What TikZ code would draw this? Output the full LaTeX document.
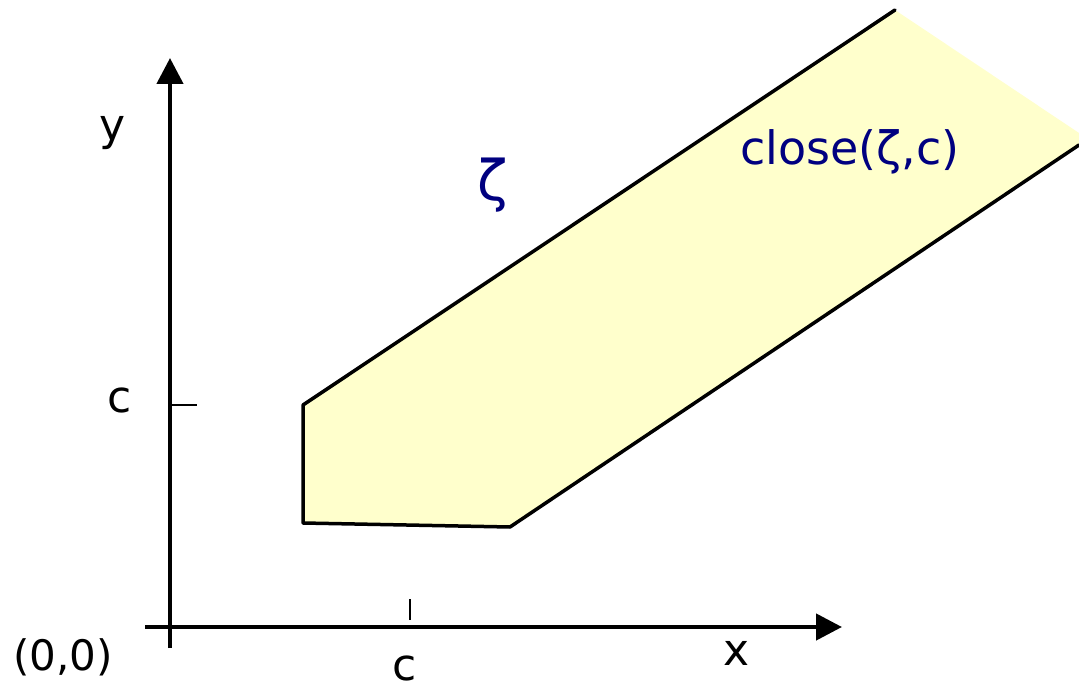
\documentclass[tikz,border=0pt]{standalone}
\usepackage{fontspec}
\setmainfont{DejaVu Sans}
\usetikzlibrary{arrows.meta}
\definecolor{regionfill}{HTML}{FFFFCC}
\definecolor{labelblue}{HTML}{000080}
\begin{document}
\begin{tikzpicture}[x=1pt,y=-1pt,
  axis/.style={line width=4.5pt,-{Triangle[length=26pt,width=26pt]}},
  edge/.style={line width=3.5pt,line cap=round,line join=round},
  tickmark/.style={line width=1.5pt},
  lbl/.style={font=\fontsize{44}{50}\selectfont,inner sep=0pt},
  bluelbl/.style={lbl,text=labelblue}]
\useasboundingbox (0,0) rectangle (1079,690);
% region
\coordinate (p1) at (303,405);
\coordinate (p2) at (895,10);
\coordinate (p3) at (1079,133);
\coordinate (p4) at (1079,145);
\coordinate (p5) at (510,527);
\coordinate (p6) at (303,523);
\fill[regionfill] (p1) -- (p2) -- (p3) -- (p4) -- (p5) -- (p6) -- cycle;
\draw[edge] (p2) -- (p1) -- (p6) -- (p5) -- (p4);
% axes
\coordinate (ybot) at (170,648);
\coordinate (ytop) at (170,58);
\coordinate (xleft) at (145,627);
\coordinate (xright) at (842,627);
\draw[axis] (ybot) -- (ytop);
\draw[axis] (xleft) -- (xright);
% ticks
\coordinate (ty1) at (170,405);
\coordinate (ty2) at (197,405);
\coordinate (tx1) at (410,599);
\coordinate (tx2) at (410,620);
\draw[tickmark] (ty1) -- (ty2);
\draw[tickmark] (tx1) -- (tx2);
% labels
\node[lbl] (ylab) at (113,133) {y};
\node[lbl] (cy) at (120,400) {c};
\node[lbl,font=\fontsize{42}{50}\selectfont] (orig) at (63,657) {(0,0)};
\node[lbl] (cx) at (405,668) {c};
\node[lbl] (xlab) at (737,653) {x};
\node[bluelbl,font=\fontsize{56}{60}\selectfont] (zeta) at (493,185) {ζ};
\node[bluelbl,font=\fontsize{46}{50}\selectfont] (close) at (850,152) {close(ζ,c)};
\end{tikzpicture}
\end{document}
